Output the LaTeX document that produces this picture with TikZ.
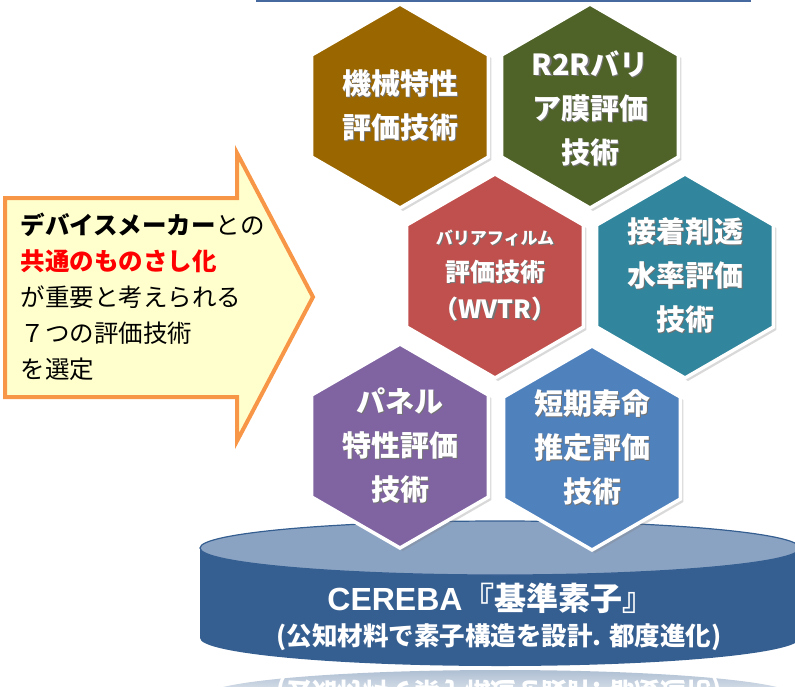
\documentclass[tikz,border=0pt]{standalone}
\usepackage{fontspec}
\setmainfont{Noto Sans CJK JP}
\newfontfamily\latinsans{Liberation Sans}
\usetikzlibrary{shapes.geometric,shadows}

\definecolor{hexbrown}{RGB}{153,102,0}
\definecolor{hexolive}{RGB}{79,98,40}
\definecolor{hexred}{RGB}{192,80,77}
\definecolor{hexteal}{RGB}{49,133,156}
\definecolor{hexpurple}{RGB}{128,100,162}
\definecolor{hexblue}{RGB}{79,129,189}
\definecolor{basedark}{RGB}{54,95,145}
\definecolor{basetop}{RGB}{139,163,195}
\definecolor{arrowline}{RGB}{247,150,70}
\definecolor{arrowfill}{RGB}{255,255,206}
\definecolor{topline}{RGB}{70,106,160}

% white text with a small dark shadow
\newcommand\shd[1]{\rlap{\kern1.4pt\raisebox{-1.4pt}{\color{black!55}#1}}#1}

\begin{document}
\begin{tikzpicture}[
  x=1pt, y=-1pt,
  hex/.style    = {regular polygon, regular polygon sides=6, regular polygon rotate=30,
                   minimum size=204pt, inner sep=0pt, outer sep=0pt,
                   draw=white, line width=3.5pt,
                   drop shadow={shadow xshift=3pt, shadow yshift=-3pt, opacity=0.3}},
  hextxt/.style = {text=white, align=center, font=\bfseries\fontsize{29}{44}\selectfont},
  basetxt/.style = {text=white, align=center},
]
\useasboundingbox (0,0) rectangle (795,686);

% ---- top rule --------------------------------------------------------------
\draw[topline, line width=2.5pt] (256,1) -- (751,1);

% ---- base cylinder ---------------------------------------------------------
% faded reflection under the base
\shade[top color=basedark!40, bottom color=basedark!15]
  (205,696) arc[start angle=180, end angle=360, x radius=295, y radius=26] -- cycle;
\begin{scope}[shift={(499,691)}, yscale=-1]
  \node[basetxt, transform shape, font=\bfseries\fontsize{25.5}{30}\selectfont] (mirror) at (0,0)
    {(公知材料で素子構造を設計. 都度進化)};
\end{scope}
\fill[basedark] (200,548) -- (200,638)
  arc[start angle=180, end angle=0, x radius=300, y radius=28] -- (800,548) -- cycle;
\filldraw[fill=basetop, draw=basedark, line width=1.2pt] (500,548) ellipse[x radius=300, y radius=27];

\node[basetxt, font=\bfseries\fontsize{32}{36}\selectfont] (base1) at (491,598)
  {{\latinsans CEREBA}『基準素子』};
\node[basetxt, font=\bfseries\fontsize{25.5}{30}\selectfont] (base2) at (499,637)
  {(公知材料で素子構造を設計. 都度進化)};

% ---- hexagons --------------------------------------------------------------
\node[hex, fill=hexbrown]  (hbrown)  at (400,106) {};
\node[hex, fill=hexolive]  (holive)  at (590,106) {};
\node[hex, fill=hexred]    (hred)    at (495,276) {};
\node[hex, fill=hexteal]   (hteal)   at (685,276) {};
\node[hex, fill=hexpurple] (hpurple) at (400,446) {};
\node[hex, fill=hexblue]   (hblue)   at (592,448) {};

\node[hextxt] (tbrown)  at (hbrown)  {\shd{機械特性}\\\shd{評価技術}};
\node[hextxt] (tolive)  at (holive.center) [yshift=-3pt] {\shd{R2Rバリ}\\\shd{ア膜評価}\\\shd{技術}};
\node[hextxt, font=\bfseries\fontsize{25}{37}\selectfont] (tred) at (hred)
  {{\fontsize{17}{37}\selectfont\shd{バリアフィルム}}\\\shd{評価技術}\\\shd{（WVTR）}};
\node[hextxt] (tteal)   at (hteal)   {\shd{接着剤透}\\\shd{水率評価}\\\shd{技術}};
\node[hextxt] (tpurple) at (hpurple) {\shd{パネル}\\\shd{特性評価}\\\shd{技術}};
\node[hextxt] (tblue)   at (hblue)   {\shd{短期寿命}\\\shd{推定評価}\\\shd{技術}};

% ---- arrow -----------------------------------------------------------------
\draw[arrowline, fill=arrowfill, line width=4pt, line join=miter]
  (5,198) -- (237,198) -- (237,153) -- (313,297) -- (237,441) -- (237,397) -- (5,397) -- cycle;
\node[anchor=west, align=left, font=\fontsize{24.5}{36}\selectfont] (pick) at (17,297)
  {{\bfseries デバイスメーカー}との\\
   {\bfseries\color{red}共通のものさし化}\\
   が重要と考えられる\\
   ７つの評価技術\\
   を選定};

\end{tikzpicture}
\end{document}
